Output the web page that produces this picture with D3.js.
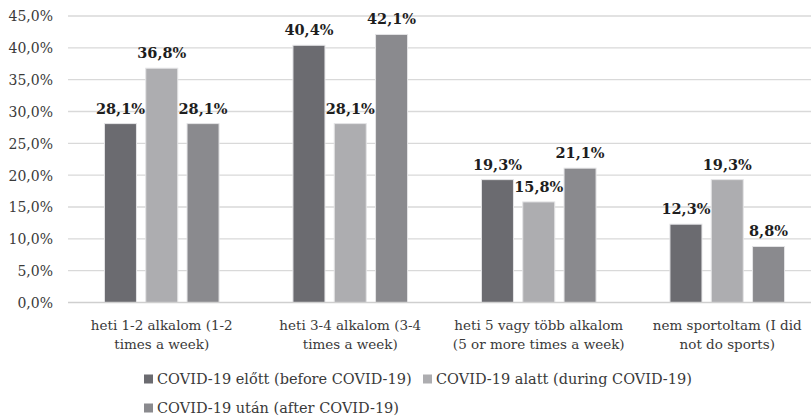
<!DOCTYPE html>
<html>
<head>
<meta charset="utf-8">
<script src="https://cdn.jsdelivr.net/npm/d3@7"></script>
<style>
  html, body { margin: 0; padding: 0; background: #fff; }
  svg { display: block; font-family: "DejaVu Serif", Georgia, serif; }
</style>
</head>
<body>
<svg id="chart" width="811" height="420"></svg>
<script>
// Sport frequency before, during and after COVID-19 (share of respondents, %)
const categories = [
  ["heti 1-2 alkalom (1-2", "times a week)"],
  ["heti 3-4 alkalom (3-4", "times a week)"],
  ["heti 5 vagy több alkalom", "(5 or more times a week)"],
  ["nem sportoltam (I did", "not do sports)"]
];
const seriesNames = [
  "COVID-19 előtt (before COVID-19)",
  "COVID-19 alatt (during COVID-19)",
  "COVID-19 után (after COVID-19)"
];
const before = [28.1, 40.4, 19.3, 12.3];
const during = [36.8, 28.1, 15.8, 19.3];
const after = [28.1, 42.1, 21.1, 8.8];
const yTicks = [0, 5, 10, 15, 20, 25, 30, 35, 40, 45];
const colors = ["#6b6b70", "#adadb0", "#8a8a8e"];

const series = [before, during, after];
const fmt = v => d3.format(".1f")(v).replace(".", ",") + "%";

const svg = d3.select("#chart");
const plot = { left: 68, right: 822, top: 16, bottom: 302.5 };
const groupWidth = 114.6;

const x0 = d3.scaleBand().domain(d3.range(categories.length)).range([plot.left, plot.right]);
const x1 = d3.scaleBand().domain(d3.range(series.length)).range([0, groupWidth]).paddingInner(0.225);
const y = d3.scaleLinear().domain([0, 45]).range([plot.bottom, plot.top]);
const groupStart = i => x0(i) + (x0.bandwidth() - groupWidth) / 2 - 0.5;

// horizontal gridlines
svg.append("g")
  .selectAll("line")
  .data(yTicks.filter(t => t > 0))
  .join("line")
  .attr("x1", plot.left).attr("x2", 811)
  .attr("y1", d => y(d)).attr("y2", d => y(d))
  .attr("stroke", "#d9d9d9").attr("stroke-width", 1.3);

// y axis labels
const yAxis = d3.axisLeft(y).tickValues(yTicks).tickFormat(fmt).tickSize(0).tickPadding(0);
const yg = svg.append("g").attr("transform", "translate(53,0)").call(yAxis);
yg.select(".domain").remove();
yg.selectAll("text")
  .attr("font-family", "DejaVu Serif")
  .attr("font-size", 14)
  .attr("fill", "#3a3a3a")
  .attr("dy", "0.35em");

// bars
const groups = svg.append("g")
  .selectAll("g")
  .data(categories.map((c, i) => i))
  .join("g")
  .attr("transform", i => `translate(${groupStart(i)},0)`);

groups.selectAll("rect")
  .data(i => series.map((s, k) => ({ k, v: s[i] })))
  .join("rect")
  .attr("x", d => x1(d.k))
  .attr("width", x1.bandwidth())
  .attr("y", d => y(d.v))
  .attr("height", d => y(0) - y(d.v))
  .attr("fill", d => colors[d.k])
  .attr("stroke", "#e4e4e6")
  .attr("stroke-width", 1);

// value labels
groups.selectAll("text")
  .data(i => series.map((s, k) => ({ k, v: s[i] })))
  .join("text")
  .attr("x", d => x1(d.k) + x1.bandwidth() / 2)
  .attr("y", d => y(d.v) - 10)
  .attr("text-anchor", "middle")
  .attr("font-size", 14.5)
  .attr("font-weight", "bold")
  .attr("fill", "#1e1e1e")
  .text(d => fmt(d.v));

// baseline
svg.append("line")
  .attr("x1", plot.left).attr("x2", 811)
  .attr("y1", y(0)).attr("y2", y(0))
  .attr("stroke", "#cfcfcf").attr("stroke-width", 1.5);

// category labels
const catG = svg.append("g");
categories.forEach((lines, i) => {
  const cx = groupStart(i) + groupWidth / 2;
  const t = catG.append("text")
    .attr("x", cx)
    .attr("y", 330)
    .attr("text-anchor", "middle")
    .attr("font-size", 13.5)
    .attr("fill", "#3a3a3a");
  lines.forEach((ln, j) => t.append("tspan").attr("x", cx).attr("dy", j ? 19 : 0).text(ln));
});

// legend
const legendPos = [[144, 384], [423, 384], [144, 413]];
const lg = svg.append("g");
seriesNames.forEach((name, k) => {
  const [lx, ly] = legendPos[k];
  lg.append("rect").attr("x", lx).attr("y", ly - 9.5).attr("width", 9).attr("height", 9).attr("fill", colors[k]);
  lg.append("text").attr("x", lx + 13).attr("y", ly)
    .attr("font-size", 14.5).attr("fill", "#3a3a3a").text(name);
});
</script>
</body>
</html>
